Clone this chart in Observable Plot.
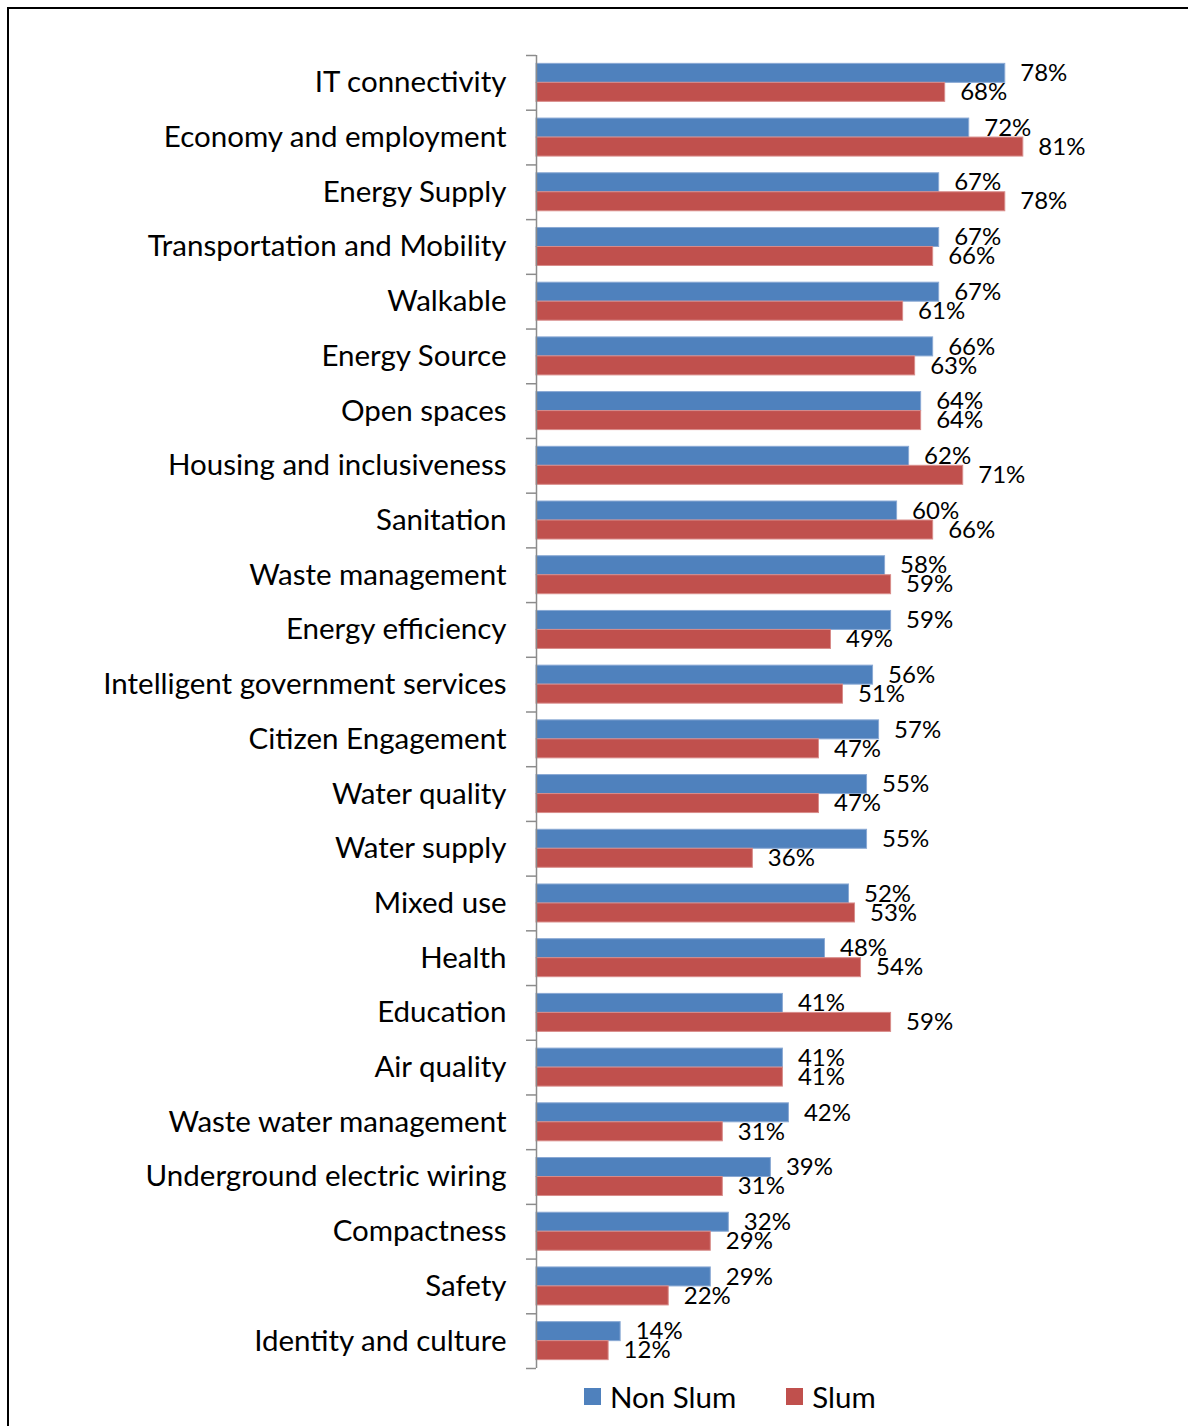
<!DOCTYPE html>
<html>
<head>
<meta charset="utf-8">
<script src="https://cdn.jsdelivr.net/npm/d3@7"></script>
<script src="https://cdn.jsdelivr.net/npm/@observablehq/plot@0.6"></script>
<style>
  html, body { margin: 0; padding: 0; background: #fff; overflow: hidden; }
  body { width: 1188px; height: 1426px; position: relative; font-family: Lato, "Open Sans", sans-serif; }
  #frame { position: absolute; left: 7px; top: 7px; width: 1220px; height: 1460px;
           border-left: 2px solid #000; border-top: 2px solid #000; }
  #chart { position: absolute; left: 0; top: 0; }
  #legend { position: absolute; left: 584px; top: 1379px; display: flex; align-items: center;
            font-size: 29.5px; color: #000; }
  #legend .item { display: flex; align-items: center; margin-right: 50px; }
  #legend .sw { width: 17px; height: 17px; margin-right: 9px; }
</style>
</head>
<body>
<div id="frame"></div>
<div id="chart"></div>
<div id="legend"></div>
<script>
// Share of respondents rating each smart-city feature as important
const categories = [
  "IT connectivity", "Economy and employment", "Energy Supply", "Transportation and Mobility",
  "Walkable", "Energy Source", "Open spaces", "Housing and inclusiveness", "Sanitation",
  "Waste management", "Energy efficiency", "Intelligent government services",
  "Citizen Engagement", "Water quality", "Water supply", "Mixed use", "Health", "Education",
  "Air quality", "Waste water management", "Underground electric wiring", "Compactness",
  "Safety", "Identity and culture"
];
const nonSlum = [78, 72, 67, 67, 67, 66, 64, 62, 60, 58, 59, 56, 57, 55, 55, 52, 48, 41, 41, 42, 39, 32, 29, 14];
const slum    = [68, 81, 78, 66, 61, 63, 64, 71, 66, 59, 49, 51, 47, 47, 36, 53, 54, 59, 41, 31, 31, 29, 22, 12];
const seriesNames = ["Non Slum", "Slum"];
const seriesColors = ["#4F81BD", "#C0504D"];
const seriesEdges = ["#8aa9d4", "#d88c8a"];

const rows = categories.map((category, i) => ({category, nonSlum: nonSlum[i], slum: slum[i]}));

const width = 1188, height = 1375;
const marginTop = 55, marginBottom = 7, marginLeft = 536, marginRight = 51;
const step = (height - marginTop - marginBottom) / categories.length;
const barH = 19;
const outer = (step - 2 * barH) / 2;
const font = "Lato, 'Open Sans', sans-serif";
const axisGray = "#8c8c8c";
const tickLen = 10 / ((width - marginLeft - marginRight) / 100); // 10px in x units

const chart = Plot.plot({
  width, height, marginTop, marginBottom, marginLeft, marginRight,
  style: {fontFamily: font, color: "#000", background: "transparent"},
  x: {domain: [0, 100], axis: null},
  y: {domain: categories, padding: 0, round: false},
  marks: [
    // Non Slum bars sit in the upper half of each band, Slum in the lower half
    Plot.barX(rows, {y: "category", x: "nonSlum", fill: seriesColors[0], stroke: seriesEdges[0], strokeWidth: 1,
      insetTop: outer, insetBottom: outer + barH}),
    Plot.barX(rows, {y: "category", x: "slum", fill: seriesColors[1], stroke: seriesEdges[1], strokeWidth: 1,
      insetTop: outer + barH, insetBottom: outer}),
    // category axis line and tick marks at band boundaries
    Plot.ruleX([0], {stroke: axisGray, strokeWidth: 1.5}),
    Plot.ruleY(categories, {y: d => d, x1: -tickLen, x2: 0, dy: -step / 2, stroke: axisGray, strokeWidth: 1.5}),
    Plot.ruleY(categories.slice(-1), {y: d => d, x1: -tickLen, x2: 0, dy: step / 2, stroke: axisGray, strokeWidth: 1.5}),
    Plot.axisY({tickSize: 0, tickPadding: 30, fontSize: 29.5, label: null}),
    // value labels
    Plot.text(rows, {y: "category", x: "nonSlum", text: d => d.nonSlum + "%", dx: 15, dy: -barH / 2,
      textAnchor: "start", fontSize: 24, fill: "#000"}),
    Plot.text(rows, {y: "category", x: "slum", text: d => d.slum + "%", dx: 15, dy: barH / 2,
      textAnchor: "start", fontSize: 24, fill: "#000"})
  ]
});
document.getElementById("chart").appendChild(chart);

const legend = document.getElementById("legend");
seriesNames.forEach((name, i) => {
  const item = document.createElement("div");
  item.className = "item";
  const sw = document.createElement("span");
  sw.className = "sw";
  sw.style.background = seriesColors[i];
  const label = document.createElement("span");
  label.textContent = name;
  item.appendChild(sw);
  item.appendChild(label);
  legend.appendChild(item);
});
</script>
</body>
</html>
